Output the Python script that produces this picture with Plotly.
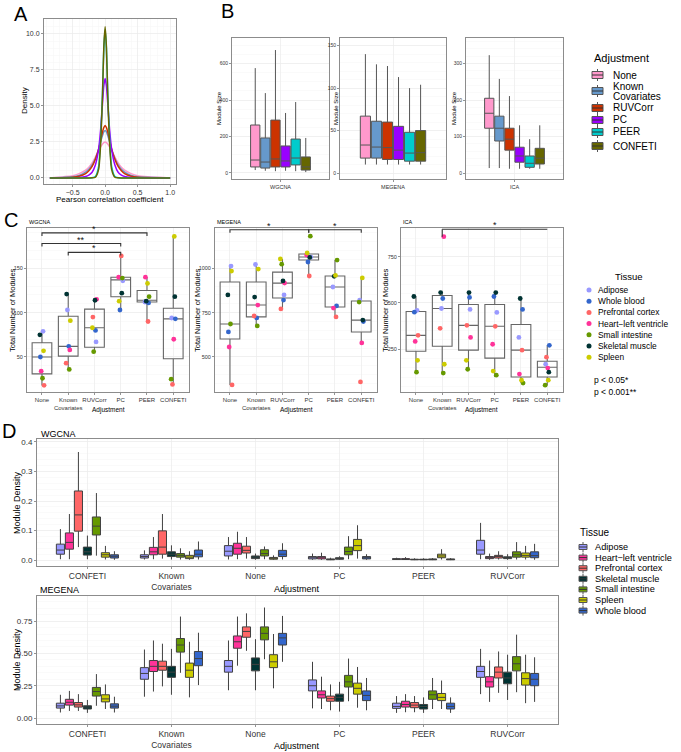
import plotly.graph_objects as go

W, H = 681, 752
FONT = "Liberation Sans, Arial, Helvetica, sans-serif"


def px(x):
    return x / W


def py(y):
    return 1 - y / H


# ---------------- DATA ----------------
# Panel A: density of Pearson correlation
A_X = [-0.85, -0.5, -0.4, -0.3, -0.25, -0.2, -0.15, -0.1, -0.07, -0.04, -0.02, 0,
       0.02, 0.04, 0.07, 0.1, 0.15, 0.2, 0.25, 0.3, 0.4, 0.5, 1.0]
A_NONE = [0, 0.15, 0.3, 0.55, 0.75, 1.05, 1.45, 1.9, 2.15, 2.35, 2.45, 2.5,
          2.45, 2.35, 2.15, 1.9, 1.45, 1.05, 0.75, 0.55, 0.3, 0.15, 0]
A_KC = [0, 0.08, 0.18, 0.4, 0.6, 0.9, 1.35, 2.0, 2.5, 2.95, 3.2, 3.3,
        3.2, 2.95, 2.5, 2.0, 1.35, 0.9, 0.6, 0.4, 0.18, 0.08, 0]
A_RUV = [0, 0.05, 0.12, 0.3, 0.5, 0.8, 1.3, 2.0, 2.6, 3.2, 3.5, 3.65,
         3.5, 3.2, 2.6, 2.0, 1.3, 0.8, 0.5, 0.3, 0.12, 0.05, 0]
A_PC = [0, 0.01, 0.03, 0.1, 0.2, 0.4, 0.9, 2.0, 3.3, 5.2, 6.4, 6.9,
        6.4, 5.2, 3.3, 2.0, 0.9, 0.4, 0.2, 0.1, 0.03, 0.01, 0]
A_PEER = [0, 0, 0, 0, 0, 0.02, 0.1, 0.8, 2.6, 6.0, 9.0, 10.3,
          9.0, 6.0, 2.6, 0.8, 0.1, 0.02, 0, 0, 0, 0, 0]
A_CONFETI = [0, 0, 0, 0, 0, 0.01, 0.05, 0.6, 2.3, 5.8, 9.1, 10.5,
             9.1, 5.8, 2.3, 0.6, 0.05, 0.01, 0, 0, 0, 0, 0]

ADJ = ["None", "Known Covariates", "RUVCorr", "PC", "PEER", "CONFETI"]
ADJ_COLORS = ["#FF99CC", "#6699CC", "#CC3300", "#9900FF", "#00CCCC", "#666600"]

# Panel B: module size (order of ADJ)
B_WG_LOW = [16, 12, 10, 12, 10, 5]
B_WG_Q1 = [33, 27, 33, 33, 44, 16]
B_WG_MED = [71, 60, 77, 66, 82, 33]
B_WG_Q3 = [263, 192, 290, 148, 186, 88]
B_WG_HIGH = [575, 438, 674, 329, 389, 192]

B_ME_LOW = [10, 10, 10, 10, 10, 10]
B_ME_Q1 = [17.6, 17.6, 16, 16, 14, 14]
B_ME_MED = [33, 30.6, 30, 27, 23.5, 24]
B_ME_Q3 = [67, 61, 60, 55, 48, 50]
B_ME_HIGH = [140, 128, 126, 113, 100, 104]

B_ICA_LOW = [14, 14, 12, 12, 12, 12]
B_ICA_Q1 = [123, 88, 63, 30, 16, 25]
B_ICA_MED = [164, 123, 93, 47, 27, 41]
B_ICA_Q3 = [205, 156, 123, 71, 47, 68]
B_ICA_HIGH = [323, 258, 211, 131, 93, 131]

# Panel C: total number of modules
C_TISSUES = ["Adipose", "Whole blood", "Prefrontal cortex", "Heart\u2212left ventricle",
             "Small intestine", "Skeletal muscle", "Spleen"]
C_COLORS = ["#9999FF", "#3366CC", "#FF6666", "#FF3399", "#669900", "#003333", "#CCCC00"]
C_XLABELS = ["None", "Known<br>Covariates", "RUVCorr", "PC", "PEER", "CONFETI"]

C_WG_LOW = [18, 36, 56, 103, 90, 19]
C_WG_Q1 = [31, 51, 61, 118, 112, 48]
C_WG_MED = [50, 62, 83, 137, 114, 93]
C_WG_Q3 = [66, 96, 104, 140, 125, 105]
C_WG_HIGH = [79, 121, 115, 164, 140, 186]
C_WG_POINTS = [
    [79, 103, 67, 136, 112, 94],
    [50, 62, 80, 103, 111, 93],
    [18, 43, 95, 164, 90, 19],
    [34, 58, 115, 140, 140, 70],
    [26, 36, 56, 139, 118, 25],
    [75, 121, 114, 122, 113, 118],
    [57, 91, 83, 113, 133, 186],
]

C_ME_LOW = [342, 669, 771, 957, 726, 579]
C_ME_Q1 = [601, 726, 833, 1047, 782, 641]
C_ME_MED = [686, 793, 917, 1064, 895, 708]
C_ME_Q3 = [923, 923, 979, 1081, 957, 816]
C_ME_HIGH = [1013, 1024, 1053, 1087, 1047, 946]
C_ME_POINTS = [
    [1013, 1022, 850, 1064, 895, 821],
    [641, 720, 821, 1036, 788, 700],
    [342, 731, 771, 957, 726, 359],
    [556, 793, 917, 1075, 776, 579],
    [686, 675, 1024, 1182, 1047, 810],
    [850, 838, 929, 1062, 955, 708],
    [985, 996, 1053, 1087, 960, 946],
]

C_ICA_LOW = [126, 121, 142, 100, 67, 56]
C_ICA_Q1 = [239, 266, 245, 202, 100, 100]
C_ICA_MED = [325, 470, 379, 374, 245, 153]
C_ICA_Q3 = [454, 540, 492, 492, 384, 185]
C_ICA_HIGH = [535, 556, 556, 556, 524, 271]
C_ICA_POINTS = [
    [460, 470, 465, 449, 314, 169],
    [450, 524, 530, 535, 465, 271],
    [325, 363, 379, 374, 245, 207],
    [292, 858, 314, 277, 116, 148],
    [126, 121, 142, 110, 67, 56],
    [535, 556, 556, 556, 524, 126],
    [190, 169, 190, 132, 83, 83],
]

# significance brackets: (from index, to index, label)
C_WG_SIG = [(0, 4, "*"), (0, 3, "**"), (1, 3, "*")]
C_ME_SIG = [(0, 3, "*"), (3, 5, "*")]
C_ICA_SIG = [(1, 5, "*")]

# Panel D: module density, per tissue, each entry = (low, q1, median, q3, high)
D_ADJ = ["CONFETI", "Known Covariates", "None", "PC", "PEER", "RUVCorr"]
D_XLABELS = ["CONFETI", "Known<br>Covariates", "None", "PC", "PEER", "RUVCorr"]
D_TISSUES = ["Adipose", "Heart\u2212left ventricle", "Prefrontal cortex", "Skeletal muscle",
             "Small intestine", "Spleen", "Whole blood"]
D_COLORS = ["#9999FF", "#FF3399", "#FF6666", "#003333", "#669900", "#CCCC00", "#3366CC"]

D_WG_ADIPOSE = [(0.003, 0.02, 0.034, 0.054, 0.105), (0.002, 0.007, 0.012, 0.018, 0.033),
                (0.002, 0.014, 0.03, 0.049, 0.078), (0.001, 0.004, 0.008, 0.012, 0.022),
                (0.001, 0.002, 0.003, 0.005, 0.008), (0.003, 0.02, 0.034, 0.067, 0.126)]
D_WG_HEART = [(0.003, 0.037, 0.06, 0.092, 0.156), (0.003, 0.018, 0.028, 0.043, 0.078),
              (0.003, 0.02, 0.04, 0.057, 0.096), (0.001, 0.004, 0.008, 0.012, 0.025),
              (0.001, 0.002, 0.003, 0.005, 0.01), (0.001, 0.005, 0.008, 0.012, 0.022)]
D_WG_PREFRONTAL = [(0.044, 0.098, 0.153, 0.234, 0.366), (0.005, 0.02, 0.044, 0.099, 0.156),
                   (0.005, 0.024, 0.033, 0.047, 0.078), (0.0, 0.001, 0.002, 0.004, 0.008),
                   (0.0, 0.001, 0.002, 0.003, 0.006), (0.002, 0.007, 0.012, 0.016, 0.03)]
D_WG_SKELETAL = [(0.003, 0.017, 0.028, 0.044, 0.083), (0.002, 0.012, 0.02, 0.028, 0.05),
                 (0.001, 0.005, 0.01, 0.014, 0.022), (0.001, 0.003, 0.005, 0.008, 0.013),
                 (0.0, 0.001, 0.002, 0.003, 0.006), (0.001, 0.005, 0.008, 0.011, 0.02)]
D_WG_SMALLINT = [(0.015, 0.085, 0.115, 0.146, 0.227), (0.002, 0.01, 0.016, 0.022, 0.04),
                 (0.003, 0.014, 0.022, 0.035, 0.046), (0.003, 0.018, 0.029, 0.044, 0.081),
                 (0.0, 0.001, 0.002, 0.004, 0.007), (0.002, 0.01, 0.018, 0.028, 0.061)]
D_WG_SPLEEN = [(0.002, 0.01, 0.018, 0.025, 0.048), (0.001, 0.005, 0.01, 0.016, 0.03),
               (0.001, 0.003, 0.006, 0.009, 0.016), (0.005, 0.032, 0.049, 0.07, 0.118),
               (0.002, 0.008, 0.014, 0.02, 0.037), (0.002, 0.01, 0.016, 0.024, 0.048)]
D_WG_BLOOD = [(0.001, 0.007, 0.013, 0.018, 0.03), (0.002, 0.011, 0.02, 0.034, 0.063),
              (0.002, 0.012, 0.02, 0.033, 0.057), (0.001, 0.004, 0.008, 0.012, 0.02),
              (0.0, 0.001, 0.002, 0.004, 0.007), (0.001, 0.008, 0.015, 0.028, 0.055)]

D_ME_ADIPOSE = [(0.043, 0.077, 0.094, 0.115, 0.18), (0.165, 0.30, 0.345, 0.39, 0.53),
                (0.215, 0.355, 0.40, 0.445, 0.60), (0.075, 0.21, 0.25, 0.295, 0.435),
                (0.04, 0.075, 0.09, 0.115, 0.17), (0.185, 0.315, 0.36, 0.40, 0.535)]
D_ME_HEART = [(0.055, 0.10, 0.122, 0.145, 0.21), (0.205, 0.36, 0.40, 0.445, 0.60),
              (0.405, 0.54, 0.59, 0.635, 0.785), (0.07, 0.155, 0.18, 0.21, 0.32),
              (0.045, 0.085, 0.105, 0.13, 0.185), (0.125, 0.24, 0.28, 0.32, 0.445)]
D_ME_PREFRONTAL = [(0.055, 0.085, 0.102, 0.12, 0.185), (0.245, 0.37, 0.40, 0.44, 0.575),
                   (0.52, 0.625, 0.67, 0.705, 0.81), (0.06, 0.13, 0.15, 0.17, 0.26),
                   (0.045, 0.08, 0.10, 0.12, 0.17), (0.195, 0.31, 0.355, 0.395, 0.515)]
D_ME_SKELETAL = [(0.04, 0.07, 0.085, 0.095, 0.14), (0.18, 0.315, 0.355, 0.40, 0.535),
                 (0.215, 0.365, 0.415, 0.465, 0.61), (0.05, 0.13, 0.16, 0.185, 0.28),
                 (0.04, 0.07, 0.09, 0.105, 0.16), (0.14, 0.265, 0.31, 0.355, 0.49)]
D_ME_SMALLINT = [(0.095, 0.17, 0.205, 0.237, 0.34), (0.35, 0.51, 0.565, 0.615, 0.785),
                 (0.455, 0.605, 0.655, 0.705, 0.855), (0.13, 0.24, 0.28, 0.33, 0.46),
                 (0.07, 0.145, 0.18, 0.21, 0.31), (0.20, 0.365, 0.42, 0.475, 0.645)]
D_ME_SPLEEN = [(0.07, 0.125, 0.148, 0.18, 0.26), (0.16, 0.315, 0.37, 0.425, 0.59),
               (0.23, 0.39, 0.435, 0.49, 0.65), (0.08, 0.185, 0.23, 0.27, 0.395),
               (0.07, 0.135, 0.16, 0.19, 0.29), (0.115, 0.255, 0.305, 0.35, 0.49)]
D_ME_BLOOD = [(0.043, 0.077, 0.092, 0.11, 0.165), (0.255, 0.405, 0.46, 0.515, 0.66),
              (0.435, 0.565, 0.62, 0.655, 0.79), (0.06, 0.135, 0.175, 0.21, 0.31),
              (0.04, 0.07, 0.09, 0.115, 0.16), (0.125, 0.25, 0.30, 0.345, 0.47)]

D_WG = [D_WG_ADIPOSE, D_WG_HEART, D_WG_PREFRONTAL, D_WG_SKELETAL, D_WG_SMALLINT, D_WG_SPLEEN, D_WG_BLOOD]
D_ME = [D_ME_ADIPOSE, D_ME_HEART, D_ME_PREFRONTAL, D_ME_SKELETAL, D_ME_SMALLINT, D_ME_SPLEEN, D_ME_BLOOD]

# ---------------- FIGURE ----------------
fig = go.Figure()
annotations = []
shapes = []


def ann(text, x, y, size, xanchor="left", yanchor="middle", angle=0, color="#000000"):
    annotations.append(dict(text=text, x=px(x), y=py(y), xref="paper", yref="paper",
                            showarrow=False, xanchor=xanchor, yanchor=yanchor, align="left",
                            textangle=angle, font=dict(size=size, color=color, family=FONT)))


def axis(dom, horizontal, tsize, **kw):
    d = dict(domain=[px(dom[0]), px(dom[1])] if horizontal else [py(dom[1]), py(dom[0])],
             showline=True, mirror=True, linecolor="#8c8c8c", linewidth=1,
             showgrid=True, gridcolor="#EBEBEB", gridwidth=0.7, zeroline=False,
             ticks="outside", ticklen=2, tickcolor="#666666", tickwidth=0.7, tickangle=0,
             tickfont=dict(size=tsize, color="#333333", family=FONT))
    d.update(kw)
    return d


MINOR = dict(showgrid=True, gridcolor="#F5F5F5", gridwidth=0.5)

# ---- Panel A ----
for ys, c in zip([A_NONE, A_KC, A_RUV, A_PC, A_PEER, A_CONFETI], ADJ_COLORS):
    fig.add_trace(go.Scatter(x=A_X, y=ys, mode="lines", line=dict(color=c, width=1.5, shape="spline", smoothing=0.6),
                             xaxis="x", yaxis="y", showlegend=False, hoverinfo="skip"))

# ---- Panel B ---- (single category at position 0, boxes dodged)
B_SETS = [
    ("x2", "y2", B_WG_LOW, B_WG_Q1, B_WG_MED, B_WG_Q3, B_WG_HIGH),
    ("x3", "y3", B_ME_LOW, B_ME_Q1, B_ME_MED, B_ME_Q3, B_ME_HIGH),
    ("x4", "y4", B_ICA_LOW, B_ICA_Q1, B_ICA_MED, B_ICA_Q3, B_ICA_HIGH),
]
B_SLOT = 0.75 / len(ADJ)
for xa, ya, lo, q1, me, q3, hi in B_SETS:
    for i in range(len(ADJ)):
        xpos = (i - (len(ADJ) - 1) / 2) * B_SLOT
        fig.add_trace(go.Box(x=[xpos], lowerfence=[lo[i]], q1=[q1[i]], median=[me[i]], q3=[q3[i]],
                             upperfence=[hi[i]], width=B_SLOT * 0.92, whiskerwidth=0, fillcolor=ADJ_COLORS[i],
                             line=dict(color="#555555", width=1),
                             boxpoints=False, xaxis=xa, yaxis=ya, showlegend=False, name=ADJ[i]))

# ---- Panel C ----
JIT = [0.04, -0.06, 0.08, -0.03, 0.02, -0.08, 0.06]
C_SETS = [
    ("x5", "y5", C_WG_LOW, C_WG_Q1, C_WG_MED, C_WG_Q3, C_WG_HIGH, C_WG_POINTS, C_WG_SIG),
    ("x6", "y6", C_ME_LOW, C_ME_Q1, C_ME_MED, C_ME_Q3, C_ME_HIGH, C_ME_POINTS, C_ME_SIG),
    ("x7", "y7", C_ICA_LOW, C_ICA_Q1, C_ICA_MED, C_ICA_Q3, C_ICA_HIGH, C_ICA_POINTS, C_ICA_SIG),
]
pos = list(range(len(ADJ)))
for xa, ya, lo, q1, me, q3, hi, pts, sig in C_SETS:
    fig.add_trace(go.Box(x=pos, lowerfence=lo, q1=q1, median=me, q3=q3, upperfence=hi,
                         width=0.75, whiskerwidth=0, fillcolor="rgba(255,255,255,0)",
                         line=dict(color="#666666", width=1.1),
                         boxpoints=False, xaxis=xa, yaxis=ya, showlegend=False))
    for t, vals in enumerate(pts):
        xs = [p + JIT[(t + p * 3) % len(JIT)] for p in pos]
        fig.add_trace(go.Scatter(x=xs, y=vals, mode="markers",
                                 marker=dict(color=C_COLORS[t], size=4.8),
                                 xaxis=xa, yaxis=ya, showlegend=False, hoverinfo="skip"))

# ---- Panel D ---- (6 adjustment categories, 7 tissues dodged)
D_SLOT = 0.75 / len(D_TISSUES)
for xa, ya, dset in [("x8", "y8", D_WG), ("x9", "y9", D_ME)]:
    for t, stats in enumerate(dset):
        xs = [k + (t - (len(D_TISSUES) - 1) / 2) * D_SLOT for k in range(len(D_ADJ))]
        fig.add_trace(go.Box(x=xs,
                             lowerfence=[s[0] for s in stats], q1=[s[1] for s in stats],
                             median=[s[2] for s in stats], q3=[s[3] for s in stats],
                             upperfence=[s[4] for s in stats], width=D_SLOT * 0.9, whiskerwidth=0,
                             fillcolor=D_COLORS[t], line=dict(color="#404040", width=1),
                             boxpoints=False, xaxis=xa, yaxis=ya, showlegend=False, name=D_TISSUES[t]))

# ---------------- LAYOUT: axes ----------------
lay = dict(width=W, height=H, margin=dict(l=0, r=0, t=0, b=0), autosize=False,
           paper_bgcolor="white", plot_bgcolor="white", showlegend=False,
           boxmode="overlay", font=dict(family=FONT))

# A
lay["xaxis"] = axis((44, 176), True, 7, anchor="y", range=[-0.94, 1.09],
                    tickvals=[-0.5, 0, 0.5, 1.0], ticktext=["\u22120.5", "0.0", "0.5", "1.0"], minor=MINOR)
lay["yaxis"] = axis((19, 184), False, 7, anchor="x", range=[-0.42, 11.04],
                    tickvals=[0, 2.5, 5, 7.5, 10], ticktext=["0.0", "2.5", "5.0", "7.5", "10.0"], minor=MINOR)
# B
b_x = [(232, 329), (340, 446), (466, 563)]
b_names = ["WGCNA", "MEGENA", "ICA"]
b_y = [dict(range=[-33, 740], tickvals=[0, 200, 400, 600]),
       dict(range=[-7, 159], tickvals=[0, 50, 100, 150]),
       dict(range=[-16, 370], tickvals=[0, 100, 200, 300])]
for k in range(3):
    n = k + 2
    lay[f"xaxis{n}"] = axis(b_x[k], True, 5.5, anchor=f"y{n}", range=[-0.6, 0.6],
                            tickvals=[0], ticktext=[b_names[k]])
    lay[f"yaxis{n}"] = axis((38, 179), False, 5, anchor=f"x{n}", minor=MINOR, **b_y[k])
# C
c_x = [(27, 189), (215, 377), (401, 563)]
c_y = [dict(range=[10.5, 195.5], tickvals=[50, 100, 150]),
       dict(range=[302, 1228], tickvals=[500, 750, 1000]),
       dict(range=[19, 905], tickvals=[250, 500, 750])]
for k in range(3):
    n = k + 5
    lay[f"xaxis{n}"] = axis(c_x[k], True, 6, anchor=f"y{n}", range=[-0.57, 5.6],
                            tickvals=pos, ticktext=C_XLABELS)
    lay[f"yaxis{n}"] = axis((228, 392), False, 5.5, anchor=f"x{n}", minor=MINOR, **c_y[k])
# D
dpos = list(range(len(D_ADJ)))
lay["xaxis8"] = axis((37, 558), True, 8.5, anchor="y8", range=[-0.6, 5.6],
                     tickvals=dpos, ticktext=D_XLABELS)
lay["yaxis8"] = axis((439, 566), False, 8, anchor="x8", range=[-0.02, 0.41],
                     tickvals=[0, 0.1, 0.2, 0.3, 0.4], ticktext=["0.0", "0.1", "0.2", "0.3", "0.4"], minor=MINOR)
lay["xaxis9"] = axis((37, 558), True, 8.5, anchor="y9", range=[-0.6, 5.6],
                     tickvals=dpos, ticktext=D_XLABELS)
lay["yaxis9"] = axis((596, 724), False, 8, anchor="x9", range=[-0.046, 0.944],
                     tickvals=[0, 0.25, 0.5, 0.75], ticktext=["0.00", "0.25", "0.50", "0.75"], minor=MINOR)

# ---------------- significance brackets (C) ----------------
C_BRACKET_LEVELS = {
    "x5": ([190, 178, 168], 3.5),
    "x6": ([1218, 1218], 17),
    "x7": ([898, 898], 0),
}
for xa, ya, *_rest in C_SETS:
    sig = _rest[-1]
    levels, tip = C_BRACKET_LEVELS[xa]
    for (a, b, lab), lvl in zip(sig, levels):
        shapes.append(dict(type="path", xref=xa, yref=ya,
                           path=f"M {a},{lvl - tip} L {a},{lvl} L {b},{lvl} L {b},{lvl - tip}",
                           line=dict(color="#333333", width=1.1)))
        annotations.append(dict(text=lab, x=(a + b) / 2, y=lvl, xref=xa, yref=ya, showarrow=False,
                                yanchor="bottom", yshift=-3, font=dict(size=9, color="#111111", family=FONT)))
shapes.append(dict(type="line", xref="x7", yref="y7", x0=1, x1=1, y0=898, y1=858,
                   line=dict(color="#333333", width=1.1)))

# ---------------- text: panel labels & axis titles ----------------
ann("A", 12, 14, 20)
ann("B", 219, 11, 20)
ann("C", 2, 220, 20)
ann("D", 0, 431, 20)

ann("Pearson correlation coefficient", 110, 199, 8, xanchor="center")
ann("Density", 25, 101, 8, xanchor="center", angle=-90)

for xc in [219, 336, 454]:
    ann("Module Size", xc, 108, 6, xanchor="center", angle=-90)

for (x0, x1), nm, yt in zip(c_x, ["WGCNA", "MEGENA", "ICA"], [12, 197, 385]):
    ann(nm, x0, 222, 5.5, xanchor="left")
    ann("Adjustment", (x0 + x1) / 2, 410, 6.5, xanchor="center")
    ann("Total Number of Modules", yt, 310, 7.5, xanchor="center", angle=-90)

ann("WGCNA", 39, 434, 9)
ann("MEGENA", 38, 590, 9)
ann("Module Density", 17, 503, 9, xanchor="center", angle=-90)
ann("Module Density", 17, 660, 9, xanchor="center", angle=-90)
ann("Adjustment", 297, 589, 9, xanchor="center")
ann("Adjustment", 297, 746, 9, xanchor="center")


# ---------------- manual legends ----------------
def box_key(x0, yc, color, w=11, h=7):
    xm = x0 + w / 2
    shapes.append(dict(type="line", xref="paper", yref="paper", x0=px(xm), x1=px(xm),
                       y0=py(yc - h / 2 - 2.5), y1=py(yc + h / 2 + 2.5), line=dict(color="#555555", width=1)))
    shapes.append(dict(type="rect", xref="paper", yref="paper", x0=px(x0), x1=px(x0 + w),
                       y0=py(yc + h / 2), y1=py(yc - h / 2), fillcolor=color,
                       line=dict(color="#555555", width=1)))
    shapes.append(dict(type="line", xref="paper", yref="paper", x0=px(x0), x1=px(x0 + w),
                       y0=py(yc), y1=py(yc), line=dict(color="#333333", width=1)))


# B legend
ann("Adjustment", 592, 58, 11)
B_LEG_Y = [75, 91, 108, 120, 132, 146]
for i, (c, yc) in enumerate(zip(ADJ_COLORS, B_LEG_Y)):
    box_key(592, yc, c)
    if ADJ[i] == "Known Covariates":
        ann("Known", 611, yc - 5, 10)
        ann("Covariates", 611, yc + 6, 10)
    else:
        ann(ADJ[i], 611, yc, 10)

# C legend
ann("Tissue", 629, 276, 9.5, xanchor="center")
for t, (lab, c) in enumerate(zip(C_TISSUES, C_COLORS)):
    yc = 290 + t * 11.2
    shapes.append(dict(type="circle", xref="paper", yref="paper", x0=px(586.5), x1=px(591.5),
                       y0=py(yc + 2.5), y1=py(yc - 2.5), fillcolor=c, line=dict(width=0)))
    ann(lab, 596, yc, 8.4)
ann("p < 0.05*", 592, 380, 8.5)
ann("p < 0.001**", 592, 392, 8.5)

# D legend
ann("Tissue", 578, 532, 10)
for t, (lab, c) in enumerate(zip(D_TISSUES, D_COLORS)):
    yc = 547 + t * 10.6
    box_key(579, yc, c, w=8, h=5)
    ann(lab, 593, yc, 9.2)

lay["annotations"] = annotations
lay["shapes"] = shapes
fig.update_layout(**lay)
fig.write_html("out.html", config={"displayModeBar": False, "staticPlot": True},
               post_script="document.body.style.margin='0';document.body.style.overflow='hidden';")
